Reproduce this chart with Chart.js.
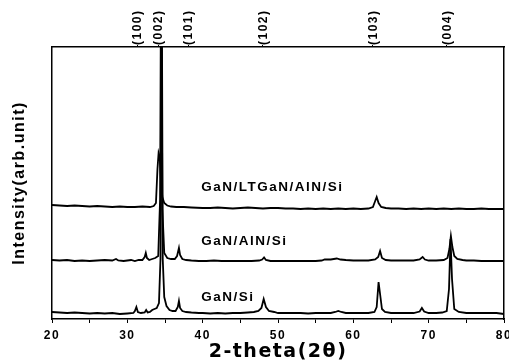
<!DOCTYPE html>
<html>
<head>
<meta charset="utf-8">
<script src="https://cdn.jsdelivr.net/npm/chart.js@4.4.1/dist/chart.umd.min.js"></script>
<style>
    body { margin: 0; background: #fff; }
</style>
</head>
<body>
<canvas id="xrd" width="509" height="363"></canvas>
<script>
// Data

const samples = ["GaN/LTGaN/AlN/Si", "GaN/AlN/Si", "GaN/Si"];

const peakTheta = [31.3, 34.1, 38.1, 48.0, 62.6, 72.4];
const peakNames = ["(100)", "(002)", "(101)", "(102)", "(103)", "(004)"];

const xTicks = [20, 30, 40, 50, 60, 70, 80];

// [2theta, intensity], curves already stacked (arb. units)
const scanLT = [
    [20, 114], [21, 113.5], [22, 113], [23, 113.5], [24, 113], [25, 112.5], [26, 113], [27, 112.5],
    [28, 112], [29, 112.5], [30, 112], [31, 112], [32, 112.5], [33, 112], [33.5, 113], [33.8, 116],
    [34.0, 150], [34.15, 166], [34.3, 162], [34.45, 140], [34.65, 122], [34.9, 116], [35.3, 113.5],
    [35.8, 112.5], [36.5, 112], [37.5, 112], [38.5, 111.5], [40, 111], [41, 111], [42, 111.5],
    [43, 111], [44, 110.5], [45, 111], [46, 111.5], [47, 111], [48, 110.5], [49, 111], [50, 111],
    [51, 110.5], [52, 110.5], [53, 110], [54, 110.5], [55, 110], [56, 110.5], [57, 110], [58, 110.5],
    [59, 110], [60, 110.5], [61, 110], [62, 110.5], [62.6, 112], [62.9, 118], [63.1, 122],
    [63.35, 116], [63.7, 112], [64.3, 111], [65, 110.5], [66, 110.5], [67, 110], [68, 110.5],
    [69, 110], [70, 110.5], [71, 110], [72, 110.5], [73, 110], [74, 110.5], [75, 110], [76, 110],
    [77, 110.5], [78, 110], [79, 110], [80, 110]
];

const scanAlN = [
    [20, 59], [21, 58.5], [22, 59], [23, 58], [24, 58.5], [25, 58], [26, 58.5], [27, 59], [28, 58.5],
    [28.5, 60], [28.8, 58.5], [29.5, 58], [30, 58.5], [30.5, 59], [31, 58], [31.5, 59], [32.0, 59],
    [32.3, 62], [32.45, 66], [32.6, 61], [32.9, 59], [33.3, 60], [33.7, 61], [34.1, 63], [34.35, 120],
    [34.5, 400], [34.65, 110], [34.9, 66], [35.3, 61], [35.8, 60], [36.3, 60], [36.6, 63], [36.85, 71],
    [37.0, 64], [37.3, 60], [37.8, 59], [38.5, 58.5], [39.5, 58], [40.5, 58], [41.5, 58.5], [42.5, 58],
    [43.5, 58], [44.5, 58], [45.5, 58], [46.5, 58], [47.5, 58.5], [47.9, 59.5], [48.15, 61.5],
    [48.4, 59], [49, 58], [50, 58], [51, 58], [52, 58], [53, 58], [54, 58], [55, 58], [55.8, 58.5],
    [56.2, 59.5], [57, 59.5], [57.8, 60.5], [58.3, 59.5], [59, 59], [60, 58.5], [61, 58.5], [62, 58.5],
    [62.9, 59.5], [63.3, 62], [63.55, 68], [63.8, 61], [64.3, 59], [65, 58.5], [66, 58.5], [67, 58.5],
    [68, 58.5], [68.8, 59.5], [69.2, 62], [69.5, 59.5], [70, 58.5], [71, 58.5], [72, 59], [72.5, 61],
    [72.75, 70], [72.95, 83], [73.15, 72], [73.4, 63], [73.8, 60], [74.5, 59], [75, 58.5], [76, 58.5],
    [77, 58], [78, 58], [79, 58], [80, 58]
];

const scanSi = [
    [20, 7], [21, 6.5], [22, 6], [23, 6.5], [24, 6], [25, 5.5], [26, 6], [27, 5.5], [28, 6], [29, 5],
    [30, 5.5], [30.8, 6], [31.0, 8], [31.2, 12], [31.4, 7], [31.8, 6], [32.3, 6.5], [32.5, 9],
    [32.7, 6.5], [33.0, 7], [33.3, 9], [33.6, 10], [33.9, 11], [34.2, 16], [34.4, 60], [34.55, 400],
    [34.7, 60], [34.9, 22], [35.2, 13], [35.6, 9], [36.0, 8], [36.4, 8], [36.7, 12], [36.85, 18],
    [37.0, 11], [37.3, 8], [37.8, 7], [38.5, 6.5], [39.5, 6], [40, 6], [41, 5.5], [42, 6], [43, 5.5],
    [44, 6], [45, 6], [46, 6.5], [46.8, 7], [47.4, 8], [47.8, 11], [48.1, 20], [48.4, 12], [48.8, 8],
    [49.5, 7], [50, 6], [51, 6], [52, 6], [53, 6], [54, 5.5], [55, 6], [56, 6], [57, 6], [57.6, 7],
    [58, 8], [58.4, 7], [59, 6], [60, 6], [61, 6], [62, 6], [62.8, 7], [63.1, 12], [63.35, 37],
    [63.55, 25], [63.8, 10], [64.2, 7], [65, 6], [66, 6], [67, 6], [68, 6], [68.8, 7.5], [69.1, 11],
    [69.4, 7.5], [70, 6], [71, 6], [71.8, 6.5], [72.4, 8], [72.7, 30], [72.9, 80], [73.1, 40],
    [73.4, 10], [74, 7], [75, 6], [76, 6], [77, 6], [78, 6], [79, 6], [80, 5]
];

// where each sample name starts: [2theta, intensity]
const labelPos = [[39.8, 132], [39.8, 78], [39.8, 22]];

// Setup

const boldFont = (size, family = "Liberation Sans") => ({ family, size, weight: "bold" });

const sampleLabels = {
    id: "sampleLabels",
    beforeDraw(chart) {
        chart.ctx.letterSpacing = "1.5px";
    },
    afterDatasetsDraw(chart) {
        const { ctx, scales: { x, y } } = chart;
        ctx.save();
        ctx.font = "bold 13.5px 'Liberation Sans'";
        ctx.fillStyle = "#000";
        ctx.textBaseline = "middle";
        ctx.textAlign = "left";
        samples.forEach((name, i) => {
            ctx.fillText(name, x.getPixelForValue(labelPos[i][0]), y.getPixelForValue(labelPos[i][1]));
        });
        ctx.restore();
    }
};

// no room kept for overhanging tick labels, the box fills the canvas
const fixHeight = (h) => (s) => {
    s.height = h;
    s.paddingLeft = 0;
    s.paddingRight = 0;
};

const axisBorder = { color: "#000", width: 1.5 };

const data = {
    datasets: [scanLT, scanAlN, scanSi].map((scan, i) => ({
        label: samples[i],
        data: scan,
        borderColor: "#000",
        borderWidth: 1.8,
        pointRadius: 0,
        tension: 0
    }))
};

// Config

const config = {
    type: "line",
    data,
    options: {
        responsive: false,
        animation: false,
        layout: { padding: 0 },
        plugins: {
            legend: { display: false },
            tooltip: { enabled: false }
        },
        scales: {
            x: {
                type: "linear",
                position: "bottom",
                min: 20,
                max: 80,
                afterFit: fixHeight(44),
                ticks: {
                    stepSize: 5,
                    padding: 5,
                    color: "#000",
                    font: boldFont(12),
                    callback: (v) => (xTicks.includes(v) ? v : "")
                },
                grid: { drawOnChartArea: false, tickLength: 4, color: "#000" },
                border: axisBorder,
                title: {
                    display: true,
                    text: "2-theta(2θ)",
                    color: "#000",
                    font: boldFont(19, "DejaVu Sans"),
                    padding: { top: 0, bottom: 0 }
                }
            },
            top: {
                type: "linear",
                position: "top",
                min: 20,
                max: 80,
                afterFit: fixHeight(47),
                afterBuildTicks: (s) => { s.ticks = peakTheta.map((v) => ({ value: v })); },
                ticks: {
                    autoSkip: false,
                    minRotation: 90,
                    maxRotation: 90,
                    padding: 0,
                    labelOffset: 15,
                    color: "#000",
                    font: boldFont(12),
                    callback: (v, i) => peakNames[i]
                },
                grid: { drawOnChartArea: false, tickLength: 2, color: "#000" },
                border: axisBorder
            },
            y: {
                min: 0,
                max: 272,
                afterFit: (s) => { s.width = 52; },
                ticks: { display: false },
                grid: { display: false },
                border: axisBorder,
                title: {
                    display: true,
                    text: "Intensity(arb.unit)",
                    color: "#000",
                    font: boldFont(16),
                    padding: { top: 10, bottom: 0 }
                }
            },
            right: {
                position: "right",
                min: 0,
                max: 272,
                afterFit: (s) => { s.width = 5; },
                ticks: { display: false },
                grid: { display: false },
                border: axisBorder
            }
        }
    },
    plugins: [sampleLabels]
};

// Render

const xrdChart = new Chart(document.getElementById("xrd"), config);
</script>
</body>
</html>
